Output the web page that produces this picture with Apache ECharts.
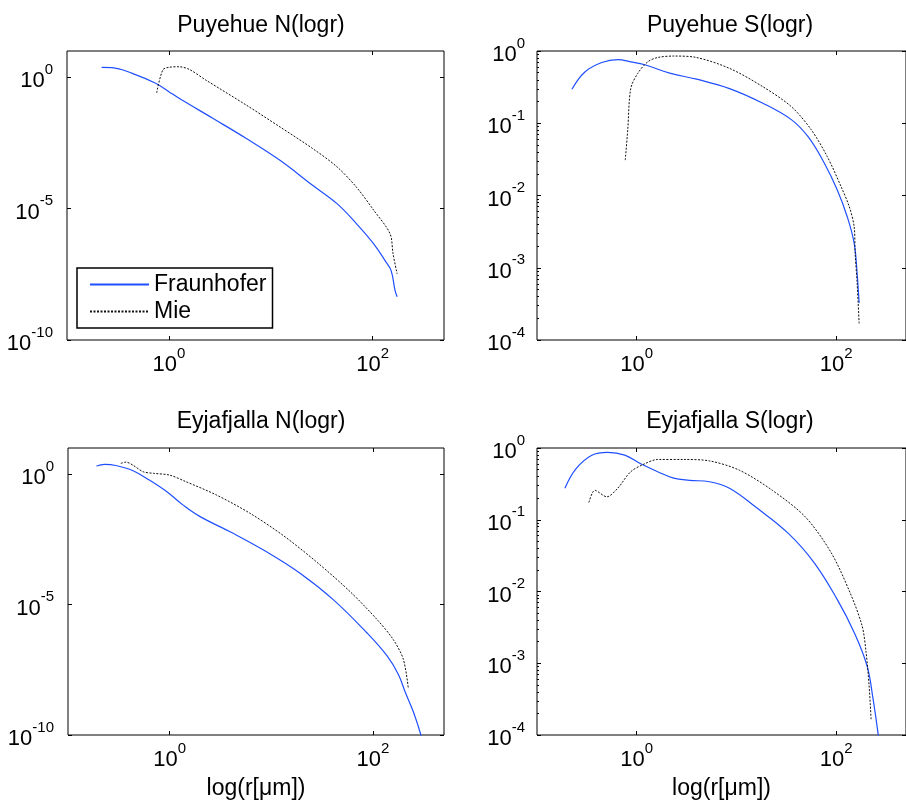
<!DOCTYPE html>
<html>
<head>
<meta charset="utf-8">
<script src="https://cdn.jsdelivr.net/npm/echarts@6/dist/echarts.min.js"></script>
<style>
  html, body { margin: 0; padding: 0; background: #fff; }
  #main { width: 906px; height: 801px; }
</style>
</head>
<body>
<div id="main"></div>
<script>
// values, stored as [log10(r), log10(value)]
const puyehueN_fraunhofer = [[-0.66,0.38],[-0.56,0.37],[-0.36,0.15],[-0.13,-0.23],[0,-0.55],[0.10,-0.80],[0.43,-1.56],[0.76,-2.33],[1.09,-3.16],[1.41,-4.11],[1.65,-4.81],[1.84,-5.57],[2.01,-6.34],[2.12,-6.97],[2.18,-7.35],[2.22,-8.12],[2.24,-8.35]]
const puyehueN_mie = [[-0.12,-0.59],[-0.06,0.28],[0,0.38],[0.10,0.40],[0.20,0.30],[0.36,-0.10],[0.76,-1.06],[1.09,-1.89],[1.41,-2.71],[1.65,-3.41],[1.84,-4.18],[2.01,-5.06],[2.17,-5.95],[2.20,-6.72],[2.24,-7.48]]

const puyehueS_fraunhofer = [[-0.65,-0.53],[-0.52,-0.29],[-0.35,-0.16],[-0.19,-0.12],[-0.06,-0.15],[0.08,-0.19],[0.34,-0.31],[0.60,-0.39],[0.93,-0.52],[1.26,-0.72],[1.55,-0.95],[1.72,-1.19],[1.88,-1.55],[2.01,-1.92],[2.11,-2.29],[2.18,-2.66],[2.21,-3.08],[2.23,-3.49]]
const puyehueS_mie = [[-0.115,-1.51],[-0.09,-1.09],[-0.06,-0.52],[0.01,-0.31],[0.11,-0.15],[0.21,-0.09],[0.37,-0.07],[0.60,-0.09],[0.93,-0.24],[1.26,-0.49],[1.55,-0.77],[1.75,-1.09],[1.91,-1.46],[2.05,-1.88],[2.13,-2.15],[2.18,-2.43],[2.19,-2.80],[2.21,-3.21],[2.23,-3.77]]

const eyjaN_fraunhofer = [[-0.72,0.31],[-0.64,0.37],[-0.53,0.33],[-0.36,0.13],[-0.20,-0.23],[-0.03,-0.67],[0.13,-1.18],[0.30,-1.63],[0.62,-2.26],[0.95,-2.97],[1.28,-3.79],[1.61,-4.81],[1.94,-6.08],[2.14,-6.97],[2.25,-7.67],[2.32,-8.37],[2.40,-9.13],[2.47,-9.96],[2.49,-10.3]]
const eyjaN_mie = [[-0.48,0.41],[-0.43,0.46],[-0.36,0.34],[-0.26,0.09],[-0.16,0.03],[0,-0.04],[0.16,-0.29],[0.46,-0.80],[0.79,-1.50],[1.12,-2.36],[1.45,-3.38],[1.78,-4.52],[2.04,-5.57],[2.20,-6.34],[2.30,-7.10],[2.35,-8.24]]

const eyjaS_fraunhofer = [[-0.72,-0.56],[-0.61,-0.29],[-0.45,-0.10],[-0.29,-0.06],[-0.12,-0.10],[0.04,-0.22],[0.21,-0.33],[0.37,-0.42],[0.53,-0.45],[0.73,-0.47],[0.93,-0.56],[1.19,-0.82],[1.52,-1.19],[1.78,-1.60],[2.01,-2.11],[2.18,-2.57],[2.31,-3.04],[2.37,-3.50],[2.42,-3.98],[2.43,-4.1]]
const eyjaS_mie = [[-0.48,-0.76],[-0.42,-0.59],[-0.30,-0.68],[-0.19,-0.56],[-0.06,-0.33],[0.08,-0.22],[0.21,-0.16],[0.47,-0.16],[0.73,-0.18],[1.03,-0.31],[1.36,-0.59],[1.69,-0.96],[1.95,-1.46],[2.14,-2.02],[2.26,-2.48],[2.30,-2.85],[2.33,-3.31],[2.35,-3.78]]

const titles = ['Puyehue N(logr)', 'Puyehue S(logr)', 'Eyjafjalla N(logr)', 'Eyjafjalla S(logr)']
const xTicks = [1, 100]
const nTicks = [1e-10, 1e-5, 1]
const sTicks = [1e-4, 1e-3, 1e-2, 1e-1, 1]
const sMinorTicks = []
for (let e = -4; e < 0; e++) {
  for (let k = 2; k <= 9; k++) sMinorTicks.push(k * Math.pow(10, e))
}

const FONT = 'Liberation Sans, Arial, sans-serif'
const BLUE = '#1f4fff'

function toPts(a) {
  return a.map(p => [Math.pow(10, p[0]), Math.pow(10, p[1])])
}
function powLabel(v) {
  const e = Math.round(Math.log10(v))
  return '{b|10}{s|' + e + '}'
}
const rich = {
  b: { fontSize: 22, fontFamily: FONT, color: '#000', lineHeight: 30, verticalAlign: 'bottom' },
  s: { fontSize: 15, fontFamily: FONT, color: '#000', lineHeight: 30, verticalAlign: 'top' }
}

const grids = [
  { left: 67, top: 51, width: 377, height: 289 },
  { left: 537, top: 51, width: 377, height: 289 },
  { left: 68, top: 448, width: 376, height: 288 },
  { left: 537, top: 448, width: 377, height: 288 }
]
const xMin = 0.1, xMax = Math.pow(10, 2.7)

let chart = echarts.init(document.getElementById('main'))

let xAxes = [], yAxes = [], series = []
grids.forEach((g, i) => {
  const isS = (i % 2 === 1)
  const yMin = isS ? 1e-4 : 1e-10
  const yMax = isS ? 1 : 10
  const yTicks = isS ? sTicks : nTicks
  const bottomRow = i >= 2
  // bottom x axis with labels
  xAxes.push({
    type: 'log', gridIndex: i, min: xMin, max: xMax, position: 'bottom',
    name: bottomRow ? 'log(r[μm])' : '', nameLocation: 'middle', nameGap: 42,
    nameTextStyle: { fontSize: 23, fontFamily: FONT, color: '#000' },
    axisLine: { show: false },
    axisTick: { inside: true, length: 4, lineStyle: { color: '#000' }, customValues: xTicks },
    axisLabel: { margin: 6, formatter: powLabel, rich: rich, customValues: xTicks },
    splitLine: { show: false }
  })
  // top x axis, ticks only
  xAxes.push({
    type: 'log', gridIndex: i, min: xMin, max: xMax, position: 'top',
    axisLine: { show: false },
    axisTick: { inside: true, length: 4, lineStyle: { color: '#000' }, customValues: xTicks },
    axisLabel: { show: false },
    splitLine: { show: false }
  })
  yAxes.push({
    type: 'log', gridIndex: i, min: yMin, max: yMax, position: 'left',
    axisLine: { show: false },
    axisTick: { inside: true, length: 4, lineStyle: { color: '#000' }, customValues: yTicks },
    axisLabel: { margin: isS ? 12 : 14, formatter: powLabel, rich: rich, customValues: yTicks },
    splitLine: { show: false }
  })
  yAxes.push({
    type: 'log', gridIndex: i, min: yMin, max: yMax, position: 'right',
    axisLine: { show: false },
    axisTick: { inside: true, length: 4, lineStyle: { color: '#000' }, customValues: yTicks },
    axisLabel: { show: false },
    splitLine: { show: false }
  })
  if (isS) {
    yAxes.push({
      type: 'log', gridIndex: i, min: yMin, max: yMax, position: 'left',
      axisLine: { show: false },
      axisTick: { inside: true, length: 2, lineStyle: { color: '#000' }, customValues: sMinorTicks },
      axisLabel: { show: false },
      splitLine: { show: false }
    })
  }
})

const panels = [
  [puyehueN_fraunhofer, puyehueN_mie],
  [puyehueS_fraunhofer, puyehueS_mie],
  [eyjaN_fraunhofer, eyjaN_mie],
  [eyjaS_fraunhofer, eyjaS_mie]
]
// index of left y axis for each grid
const yIdx = [0, 2, 5, 7]
panels.forEach((p, i) => {
  series.push({
    name: 'Fraunhofer', type: 'line', xAxisIndex: i * 2, yAxisIndex: yIdx[i],
    data: toPts(p[0]), symbol: 'none', smooth: 0.4, clip: true,
    lineStyle: { color: BLUE, width: 1.2 }, itemStyle: { color: BLUE }
  })
  series.push({
    name: 'Mie', type: 'line', xAxisIndex: i * 2, yAxisIndex: yIdx[i],
    data: toPts(p[1]), symbol: 'none', smooth: 0.3, clip: true,
    lineStyle: { color: '#111', width: 1, type: [2, 1.5] }, itemStyle: { color: '#111' }
  })
})

chart.setOption({
  backgroundColor: '#fff',
  animation: false,
  title: titles.map((t, i) => ({
    text: t,
    left: i % 2 === 0 ? 256 : 725,
    top: i < 2 ? 9 : 405,
    textAlign: 'center',
    textStyle: { fontSize: 23, fontWeight: 'normal', fontFamily: FONT, color: '#000' }
  })),
  legend: {
    data: ['Fraunhofer', 'Mie'],
    orient: 'vertical',
    left: 77, top: 268,
    padding: [5, 6, 5, 12],
    itemWidth: 59, itemHeight: 14, itemGap: 4,
    itemStyle: { opacity: 0, borderWidth: 0 },
    borderColor: '#000', borderWidth: 1.5, backgroundColor: '#fff',
    textStyle: { fontSize: 23, fontFamily: FONT, color: '#000', padding: [0, 0, 0, 0] },
    selectedMode: false
  },
  grid: grids.map(g => Object.assign({ show: true, borderColor: '#000', borderWidth: 1, backgroundColor: '#fff' }, g)),
  xAxis: xAxes,
  yAxis: yAxes,
  series: series
})
</script>
</body>
</html>
